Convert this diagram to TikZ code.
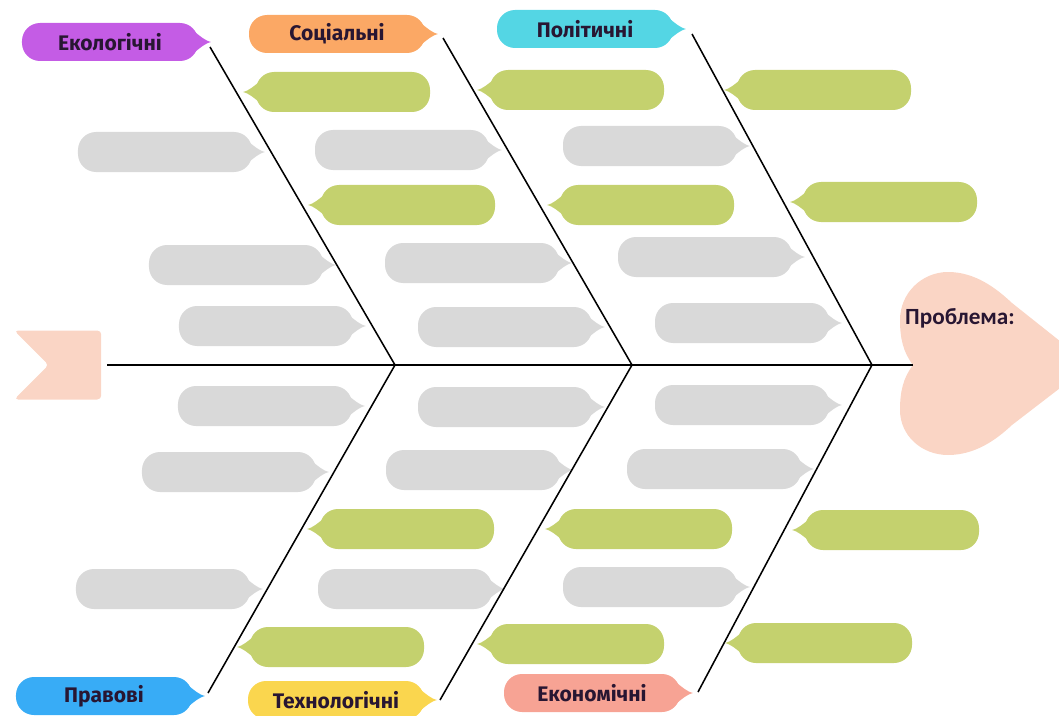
\documentclass[tikz,border=0pt]{standalone}
\usepackage{fontspec}
\usepackage{tikz}
\usetikzlibrary{shapes.symbols}
\newfontfamily\tagfont{Fira Sans}
\newfontfamily\probfont{Carlito}
\definecolor{ecoC}{RGB}{196,92,229}
\definecolor{socC}{RGB}{251,168,101}
\definecolor{polC}{RGB}{84,214,228}
\definecolor{lawC}{RGB}{56,172,246}
\definecolor{techC}{RGB}{250,214,78}
\definecolor{econC}{RGB}{247,163,148}
\definecolor{causeC}{RGB}{196,209,110}
\definecolor{ideaC}{RGB}{217,217,217}
\definecolor{peachC}{RGB}{250,213,197}
\definecolor{inkC}{RGB}{40,22,50}
\begin{document}
\begin{tikzpicture}[x=0.25mm, y=-0.25mm, line width=1.1pt,
  tipR/.style={append after command={\pgfextra{\fill[#1] ([shift={(-5,-11)}]\tikzlastnode.east) .. controls +(6,5) and +(-5,-1) .. ([shift={(12,0)}]\tikzlastnode.east) .. controls +(-5,1) and +(6,-5) .. ([shift={(-5,11)}]\tikzlastnode.east) -- cycle;}}},
  tipL/.style={append after command={\pgfextra{\fill[#1] ([shift={(5,-11)}]\tikzlastnode.west) .. controls +(-6,5) and +(5,-1) .. ([shift={(-12,0)}]\tikzlastnode.west) .. controls +(5,1) and +(-6,-5) .. ([shift={(5,11)}]\tikzlastnode.west) -- cycle;}}},
  pill/.style={rounded corners=4.5mm, minimum width=43.5mm, minimum height=10mm, inner sep=0pt},
  idea/.style={pill, fill=ideaC, tipR=ideaC},
  cause/.style={pill, fill=causeC, tipL=causeC},
  tag/.style={pill, minimum width=44mm, minimum height=9.5mm, fill=#1, tipR=#1, text=inkC, font=\tagfont\bfseries\fontsize{15}{17}\selectfont}]
\useasboundingbox (0,0) rectangle (1059,716);
\coordinate (j1) at (395,365);
\coordinate (j2) at (632,365);
\coordinate (j3) at (872,365);
\coordinate (t1) at (210,47);
\coordinate (t2) at (443,38);
\coordinate (t3) at (692,34);
\coordinate (b1) at (208,693);
\coordinate (b2) at (440,700);
\coordinate (b3) at (698,692);
\coordinate (notch) at (913,365);
\fill[peachC] (913,365) .. controls (903,352) and (900,338) .. (900,320)
  .. controls (900,293) and (922,272) .. (948,272)
  .. controls (975,272) and (996,288) .. (1012,303)
  -- (1090,365) -- (1012,425)
  .. controls (996,440) and (975,455) .. (948,455)
  .. controls (922,455) and (900,436) .. (900,410)
  .. controls (900,392) and (903,378) .. (913,365) -- cycle;
\node[text=inkC, font=\probfont\bfseries\fontsize{16.5}{18}\selectfont] (prob) at (960,318) {Проблема:};
\node[signal, signal from=west, signal to=nowhere, fill=peachC, minimum width=21.75mm, minimum height=17.25mm, inner sep=0pt, rounded corners=1mm, anchor=east] (tail) at (102,365) {};
\node[tag=ecoC] (eco) at (110,42) {Екологічні};
\node[tag=socC] (soc) at (337,34) {Соціальні};
\node[tag=polC] (pol) at (585,29) {Політичні};
\node[tag=lawC] (law) at (104,696) {Правові};
\node[tag=techC] (tech) at (336,700) {Технологічні};
\node[tag=econC] (econ) at (592,693) {Економічні};
\node[idea] (g1) at (165,152) {};
\node[idea] (g2) at (402,150) {};
\node[idea] (g3) at (650,146) {};
\node[idea] (g4) at (236,265) {};
\node[idea] (g5) at (472,263) {};
\node[idea] (g6) at (705,257) {};
\node[idea] (g7) at (266,326) {};
\node[idea] (g8) at (505,327) {};
\node[idea] (g9) at (742,323) {};
\node[idea] (g10) at (265,406) {};
\node[idea] (g11) at (505,407) {};
\node[idea] (g12) at (742,405) {};
\node[idea] (g13) at (229,472) {};
\node[idea] (g14) at (473,470) {};
\node[idea] (g15) at (714,469) {};
\node[idea] (g16) at (163,589) {};
\node[idea] (g17) at (405,589) {};
\node[idea] (g18) at (650,587) {};
\node[cause] (c1) at (343,92) {};
\node[cause] (c2) at (577,90) {};
\node[cause] (c3) at (824,90) {};
\node[cause] (c4) at (408,205) {};
\node[cause] (c5) at (647,205) {};
\node[cause] (c6) at (890,202) {};
\node[cause] (c7) at (407,529) {};
\node[cause] (c8) at (645,529) {};
\node[cause] (c9) at (892,530) {};
\node[cause] (c10) at (337,647) {};
\node[cause] (c11) at (577,644) {};
\node[cause] (c12) at (825,643) {};
\draw (t1) -- (j1) -- (b1);
\draw (t2) -- (j2) -- (b2);
\draw (t3) -- (j3) -- (b3);
\draw[shorten <=1.25mm] (tail.east) -- (notch);
\end{tikzpicture}
\end{document}
